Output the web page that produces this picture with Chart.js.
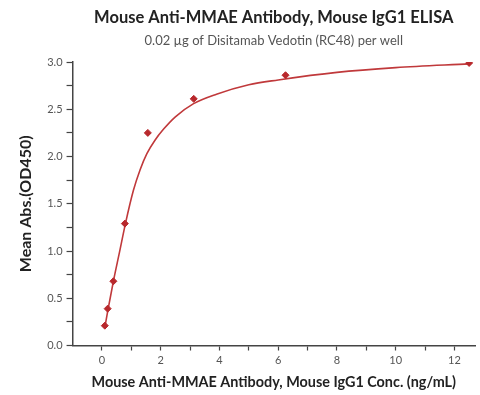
<!DOCTYPE html>
<html>
<head>
<meta charset="utf-8">
<script src="https://cdn.jsdelivr.net/npm/chart.js@4"></script>
<style>
  html, body { margin: 0; padding: 0; background: #fff; }
  #wrap { width: 480px; height: 395px; position: relative; }
</style>
</head>
<body>
<div id="wrap"><canvas id="elisaChart"></canvas></div>
<script>
// measured points (ng/mL vs OD450)
const concentrations = [0.098, 0.195, 0.39, 0.78, 1.5625, 3.125, 6.25, 12.5];
const meanAbs = [0.21, 0.39, 0.68, 1.29, 2.25, 2.61, 2.86, 2.99];

// fitted curve
const fitConc = [0.098, 0.2, 0.39, 0.6, 0.8, 1.07, 1.3, 1.53, 1.8, 2.1, 2.5, 3.12, 3.9, 5.0, 6.0, 8, 10, 12.5];
const fitAbs = [0.19, 0.37, 0.68, 0.99, 1.29, 1.64, 1.86, 2.03, 2.17, 2.29, 2.42, 2.56, 2.66, 2.76, 2.81, 2.89, 2.94, 2.98];

const xTickLabels = ['0', '2', '4', '6', '8', '10', '12'];
const yTickLabels = ['0.0', '0.5', '1.0', '1.5', '2.0', '2.5', '3.0'];

const chartTitle = 'Mouse Anti-MMAE Antibody, Mouse IgG1 ELISA';
const chartSubtitle = '0.02 \u00b5g of Disitamab Vedotin (RC48) per well';

const red = '#b8282c';
const axisColor = '#444';

// titles are centred over the plot area, not the canvas
const plotTitles = {
    id: 'plotTitles',
    afterDraw: function(chart) {
        const c = chart.ctx;
        const cx = (chart.chartArea.left + chart.chartArea.right) / 2;
        c.save();
        c.textAlign = 'center';
        c.textBaseline = 'middle';
        c.fillStyle = '#222';
        c.font = 'bold 16.5px Lato';
        c.fillText(chartTitle, cx, 18);
        c.fillStyle = '#555';
        c.font = '13px Lato';
        c.fillText(chartSubtitle, cx, 41);
        c.restore();
    }
};

document.addEventListener('DOMContentLoaded', function() {
    const ctx = document.getElementById('elisaChart');
    new Chart(ctx.getContext('2d'), {
        type: 'scatter',
        data: {
            datasets: [{
                label: 'Fit',
                data: fitConc.map((x, i) => ({ x: x, y: fitAbs[i] })),
                showLine: true,
                borderColor: '#c0393b',
                borderWidth: 1.6,
                pointRadius: 0,
                cubicInterpolationMode: 'monotone',
                order: 2
            }, {
                label: 'Mean Abs.',
                data: concentrations.map((x, i) => ({ x: x, y: meanAbs[i] })),
                showLine: false,
                pointStyle: 'rectRot',
                pointRadius: 3.5,
                backgroundColor: red,
                borderColor: red,
                order: 1
            }]
        },
        plugins: [plotTitles],
        options: {
            responsive: true,
            maintainAspectRatio: false,
            animation: false,
            layout: { padding: { left: 12, right: 5, top: 62, bottom: 0 } },
            plugins: {
                legend: { display: false },
                tooltip: { enabled: false }
            },
            scales: {
                x: {
                    type: 'linear',
                    min: -1,
                    max: 12.7,
                    afterBuildTicks: function(axis) {
                        const t = [];
                        for (let v = 0; v <= 12; v++) t.push({ value: v });
                        axis.ticks = t;
                    },
                    ticks: {
                        color: '#555',
                        font: { family: 'Lato', size: 11 },
                        maxRotation: 0,
                        autoSkip: false,
                        callback: function(value) {
                            return value % 2 === 0 ? xTickLabels[value / 2] : '';
                        }
                    },
                    grid: {
                        drawOnChartArea: false,
                        drawTicks: true,
                        tickLength: 5,
                        tickColor: axisColor,
                        tickWidth: 1.2
                    },
                    border: { color: axisColor, width: 1.5 },
                    title: {
                        display: true,
                        text: 'Mouse Anti-MMAE Antibody, Mouse IgG1 Conc. (ng/mL)',
                        color: '#222',
                        font: { family: 'Lato', size: 14.4, weight: 'bold' },
                        padding: { top: 4 }
                    }
                },
                y: {
                    min: 0,
                    max: 3,
                    afterBuildTicks: function(axis) {
                        const t = [];
                        for (let i = 0; i <= 12; i++) t.push({ value: i * 0.25 });
                        axis.ticks = t;
                    },
                    ticks: {
                        color: '#555',
                        font: { family: 'Lato', size: 11 },
                        autoSkip: false,
                        padding: 4,
                        callback: function(value) {
                            const k = Math.round(value * 4);
                            return k % 2 === 0 ? yTickLabels[k / 2] : '';
                        }
                    },
                    grid: {
                        drawOnChartArea: false,
                        drawTicks: true,
                        tickLength: 6,
                        tickColor: axisColor,
                        tickWidth: 1.2
                    },
                    border: { color: axisColor, width: 1.5 },
                    title: {
                        display: true,
                        text: 'Mean Abs.(OD450)',
                        color: '#222',
                        font: { family: 'Lato', size: 16, weight: 'bold' },
                        padding: { bottom: 8 }
                    }
                }
            }
        }
    });
});
</script>
</body>
</html>
